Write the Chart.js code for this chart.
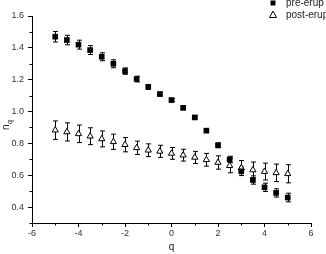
<!DOCTYPE html>
<html>
<head>
<meta charset="utf-8">
<script src="https://cdn.jsdelivr.net/npm/chart.js@4/dist/chart.umd.min.js"></script>
<style>
  html, body { margin: 0; padding: 0; background: #fff; overflow: hidden; }
  #wrap { width: 326px; height: 254px; }
</style>
</head>
<body>
<div id="wrap"><canvas id="chart" width="326" height="254"></canvas></div>
<script>
// valeurs
var qValues = [-5, -4.5, -4, -3.5, -3, -2.5, -2, -1.5, -1, -0.5, 0, 0.5, 1, 1.5, 2, 2.5, 3, 3.5, 4, 4.5, 5];
var preErup = [1.47, 1.449, 1.42, 1.386, 1.344, 1.30, 1.254, 1.204, 1.155, 1.11, 1.072, 1.023, 0.963, 0.88, 0.788, 0.699, 0.625, 0.57, 0.524, 0.489, 0.46];
var preErr = [0.033, 0.03, 0.028, 0.028, 0.025, 0.025, 0.02, 0.018, 0.015, 0.012, 0.01, 0.01, 0.01, 0.01, 0.015, 0.02, 0.026, 0.026, 0.026, 0.026, 0.027];
var postErup = [0.883, 0.872, 0.86, 0.845, 0.828, 0.81, 0.792, 0.772, 0.757, 0.75, 0.737, 0.726, 0.712, 0.697, 0.68, 0.66, 0.645, 0.633, 0.623, 0.615, 0.609];
var postErr = [0.058, 0.057, 0.055, 0.053, 0.05, 0.048, 0.045, 0.042, 0.04, 0.038, 0.037, 0.037, 0.038, 0.04, 0.042, 0.045, 0.047, 0.05, 0.053, 0.055, 0.057];
var xTicks = [-6, -4, -2, 0, 2, 4, 6];
var xMinor = [-5, -3, -1, 1, 3, 5];
var yTicks = [0.4, 0.6, 0.8, 1.0, 1.2, 1.4, 1.6];
var yMinor = [0.3, 0.5, 0.7, 0.9, 1.1, 1.3, 1.5];

function toPoints(ys) {
    return qValues.map(function(q, i) { return { x: q, y: ys[i] }; });
}

// barres d'erreur + petites graduations
var extras = {
    id: 'extras',
    beforeDatasetsDraw: function(chart) {
        var ctx = chart.ctx, xs = chart.scales.x, ys = chart.scales.y;
        ctx.save();
        ctx.strokeStyle = '#000';
        ctx.lineWidth = 1;
        [[preErup, preErr], [postErup, postErr]].forEach(function(s) {
            qValues.forEach(function(q, i) {
                var px = Math.round(xs.getPixelForValue(q)) + 0.5;
                var top = ys.getPixelForValue(s[0][i] + s[1][i]);
                var bot = ys.getPixelForValue(s[0][i] - s[1][i]);
                ctx.beginPath();
                ctx.moveTo(px, top); ctx.lineTo(px, bot);
                ctx.moveTo(px - 2.5, top); ctx.lineTo(px + 2.5, top);
                ctx.moveTo(px - 2.5, bot); ctx.lineTo(px + 2.5, bot);
                ctx.stroke();
            });
        });
        // minor ticks
        var ca = chart.chartArea;
        ctx.beginPath();
        xMinor.forEach(function(v) {
            var px = Math.round(xs.getPixelForValue(v)) + 0.5;
            ctx.moveTo(px, ca.bottom); ctx.lineTo(px, ca.bottom + 2.5);
        });
        yMinor.forEach(function(v) {
            var py = Math.round(ys.getPixelForValue(v)) + 0.5;
            ctx.moveTo(ca.left, py); ctx.lineTo(ca.left - 2.5, py);
        });
        ctx.stroke();
        ctx.restore();
    },
    afterDraw: function(chart) {
        var ctx = chart.ctx;
        ctx.save();
        // titre axe y : n_q
        ctx.fillStyle = '#222';
        ctx.translate(9, 126);
        ctx.rotate(-Math.PI / 2);
        ctx.textBaseline = 'alphabetic';
        ctx.font = '10px "Liberation Sans", Arial, sans-serif';
        ctx.fillText('n', -4, 0);
        ctx.font = '7px "Liberation Sans", Arial, sans-serif';
        ctx.fillText('q', 2, 3);
        ctx.restore();

        // légende
        ctx.save();
        ctx.font = '10px "Liberation Sans", Arial, sans-serif';
        ctx.textBaseline = 'middle';
        ctx.fillStyle = '#222';
        ctx.fillText(chart.data.datasets[0].label, 286, 3);
        ctx.fillText(chart.data.datasets[1].label, 286, 15);
        ctx.fillStyle = '#000';
        ctx.fillRect(270.5, 0.5, 5, 5);
        ctx.strokeStyle = '#000';
        ctx.lineWidth = 1;
        ctx.beginPath();
        ctx.moveTo(273, 11); ctx.lineTo(276.5, 17.5); ctx.lineTo(269.5, 17.5); ctx.closePath();
        ctx.stroke();
        ctx.restore();
    }
};

var tickFont = { family: '"Liberation Sans", Arial, sans-serif', size: 9 };

new Chart(document.getElementById('chart'), {
    type: 'scatter',
    data: {
        datasets: [
            {
                label: 'pre-erup',
                data: toPoints(preErup),
                pointStyle: 'rect',
                pointRadius: 4,
                backgroundColor: '#000',
                borderColor: '#000',
                borderWidth: 0
            },
            {
                label: 'post-erup',
                data: toPoints(postErup),
                pointStyle: 'triangle',
                pointRadius: 3.6,
                backgroundColor: '#fff',
                borderColor: '#000',
                borderWidth: 1
            }
        ]
    },
    options: {
        responsive: false,
        animation: false,
        layout: { padding: { top: 16, right: 15, left: 0, bottom: 0 } },
        plugins: {
            legend: { display: false },
            tooltip: { enabled: false }
        },
        scales: {
            x: {
                type: 'linear',
                min: -6,
                max: 6,
                afterBuildTicks: function(s) { s.ticks = xTicks.map(function(v) { return { value: v }; }); },
                afterFit: function(s) { s.height = 31; },
                grid: { drawOnChartArea: false, drawTicks: true, tickLength: 4, color: '#000' },
                border: { color: '#000', width: 1 },
                ticks: { font: tickFont, color: '#333', padding: 1, maxRotation: 0 },
                title: { display: true, text: 'q', font: { family: '"Liberation Sans", Arial, sans-serif', size: 10 }, color: '#222', padding: { top: 0, bottom: 1 } }
            },
            y: {
                type: 'linear',
                min: 0.3,
                max: 1.6,
                afterBuildTicks: function(s) { s.ticks = yTicks.map(function(v) { return { value: v }; }); },
                afterFit: function(s) { s.width = 32; },
                grid: { drawOnChartArea: false, drawTicks: true, tickLength: 4, color: '#000' },
                border: { color: '#000', width: 1 },
                ticks: {
                    font: tickFont, color: '#333', padding: 4,
                    callback: function(v) { return Number(v).toFixed(1); }
                }
            }
        }
    },
    plugins: [extras]
});
</script>
</body>
</html>
